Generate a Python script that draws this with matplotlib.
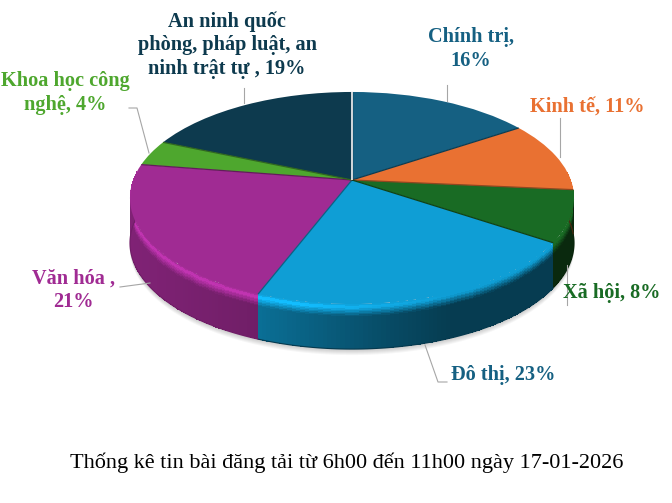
import numpy as np
import matplotlib
matplotlib.use('Agg')
import matplotlib.pyplot as plt
import matplotlib.transforms as mtransforms
from matplotlib.colors import to_rgb

# Slice shares (labels sum to 102, drawn angles differ a bit)
categories = ['Chính trị', 'Kinh tế', 'Xã hội', 'Đô thị', 'Văn hóa', 'Khoa học công nghệ', 'An ninh']
shares = [16, 11, 8, 22.0, 22.0, 4, 19]
colors = ['#156082', '#E97132', '#196B24', '#0F9ED5', '#A02B93', '#4EA72E', '#0D3A4E']
label_colors = ['#156082', '#E97132', '#196B24', '#156082', '#A02B93', '#4EA72E', '#0D3A4E']

label_texts = ['Chính trị,\n16%', 'Kinh tế, 11%', 'Xã hội, 8%', 'Đô thị, 23%', 'Văn hóa ,\n21%',
               'Khoa học công\nnghệ, 4%', 'An ninh quốc\nphòng, pháp luật, an\nninh trật tự , 19%']
label_x = [471, 587, 612, 503, 73, 65, 227]
label_y = [49, 107, 293, 375, 290, 93, 45]
title = 'Thống kê tin bài đăng tải từ 6h00 đến 11h00 ngày 17-01-2026'

# leader lines in pixels
leaders = [
    ([447, 447], [85, 101]),
    ([560, 560], [118, 157]),
    ([567, 567], [265, 305]),
    ([425, 438, 447], [345, 382, 382]),
    ([120, 150], [287, 283]),
    ([129, 137, 149], [108, 108, 153]),
    ([244, 244], [88, 103]),
]

APEX_X, APEX_Y = 352, 180
K = 0.17
C = 103.0
A = 218.8
DEPTH = 45


def project(u, v):
    # perspective view of the unit disc, in image pixels
    d = 1 + K * v
    return APEX_X + A * u / d, APEX_Y - C * v / d


class DiscToPixels(mtransforms.Transform):
    input_dims = 2
    output_dims = 2

    def transform_non_affine(self, values):
        values = np.asarray(values, dtype=float)
        x, y = project(values[:, 0], values[:, 1])
        return np.column_stack((x, y))


fig = plt.figure(figsize=(6.72, 5.03), dpi=100)
ax = fig.add_axes([0, 0, 1, 1])
wedges, _ = ax.pie(shares, colors=colors, startangle=90, counterclock=False, radius=1)
ax.set_aspect('auto')
ax.set_xlim(0, 672)
ax.set_ylim(503, 0)
ax.axis('off')

disc = DiscToPixels() + ax.transData
for w, c in zip(wedges, colors):
    w.set_transform(disc)
    w.set_zorder(3)
    w.set_edgecolor('none')

fractions = np.array(shares) / np.sum(shares)
edges = np.concatenate(([0], np.cumsum(fractions))) * 2 * np.pi

# darker radial edge between neighbouring slices
for i, c in enumerate(colors):
    ang = edges[i + 1]
    rx, ry = project(np.array([0.0, np.sin(ang)]), np.array([0.0, np.cos(ang)]))
    ax.plot(rx, ry, color=tuple(0.62 * np.array(to_rgb(c))), lw=0.9, zorder=3.5, solid_capstyle='butt')

# soft shadow under the body
t = np.linspace(0, 2 * np.pi, 300)
ox, oy = project(np.sin(t), np.cos(t))
for i in range(1, 7):
    ax.fill(ox, oy + DEPTH + i, color='#000000', alpha=0.035, lw=0, zorder=0)

# side wall
shade_x = [130, 260, 380, 450, 575]
shade_f = [0.80, 0.70, 0.49, 0.38, 0.38]
peak_x = [130, 300, 450, 575]
peak_f = [1.25, 1.25, 1.0, 1.0]
rows = np.array([0, 1.5, 3, 4.5, 6, 7.5, 9, 10.5, 12, DEPTH])
row_mid = (rows[:-1] + rows[1:]) / 2

for i, c in enumerate(colors):
    lo = max(edges[i], np.radians(85))
    hi = min(edges[i + 1], np.radians(275))
    if hi <= lo:
        continue
    th = np.linspace(lo, hi, 80)
    px, py = project(np.sin(th), np.cos(th))
    X = np.tile(px, (len(rows), 1))
    Y = py + rows[:, None]
    xm = (px[:-1] + px[1:]) / 2
    base = np.array(to_rgb(c))
    side = np.interp(xm, shade_x, shade_f)
    peak = np.interp(xm, peak_x, peak_f)
    rgb = np.zeros((len(row_mid), len(xm), 3))
    for r, d in enumerate(row_mid):
        if d < 3:
            f = 1 + (peak - 1) * d / 3
        elif d < 12:
            f = peak + (side - peak) * (d - 3) / 9
        else:
            f = side
        rgb[r] = np.clip(base[None, :] * f[:, None], 0, 1)
    ax.pcolormesh(X, Y, rgb, shading='flat', linewidth=0, antialiased=False, zorder=1)
    ax.plot(px, py + DEPTH, color=tuple(rgb[-1, len(xm) // 2] * 0.9), lw=0.8, zorder=2)

# white seam at 12 o'clock
sx, sy = project(np.array([0.0, 0.0]), np.array([0.0, 1.0]))
ax.plot(sx, sy, color='#e4e8ea', lw=1.3, zorder=4, solid_capstyle='butt')

for lx, ly in leaders:
    ax.plot(lx, ly, color='#a6a6a6', lw=0.8, zorder=5)

serif = 'Liberation Serif'
for txt, x, y, c in zip(label_texts, label_x, label_y, label_colors):
    ax.text(x, y, txt, color=c, ha='center', va='center', family=serif, weight='bold',
            fontsize=14.6, linespacing=1.25, zorder=6)
ax.text(347, 463, title, color='black', ha='center', va='center', family=serif, fontsize=16, zorder=6)

fig.savefig('out.png', dpi=100, facecolor='white')
